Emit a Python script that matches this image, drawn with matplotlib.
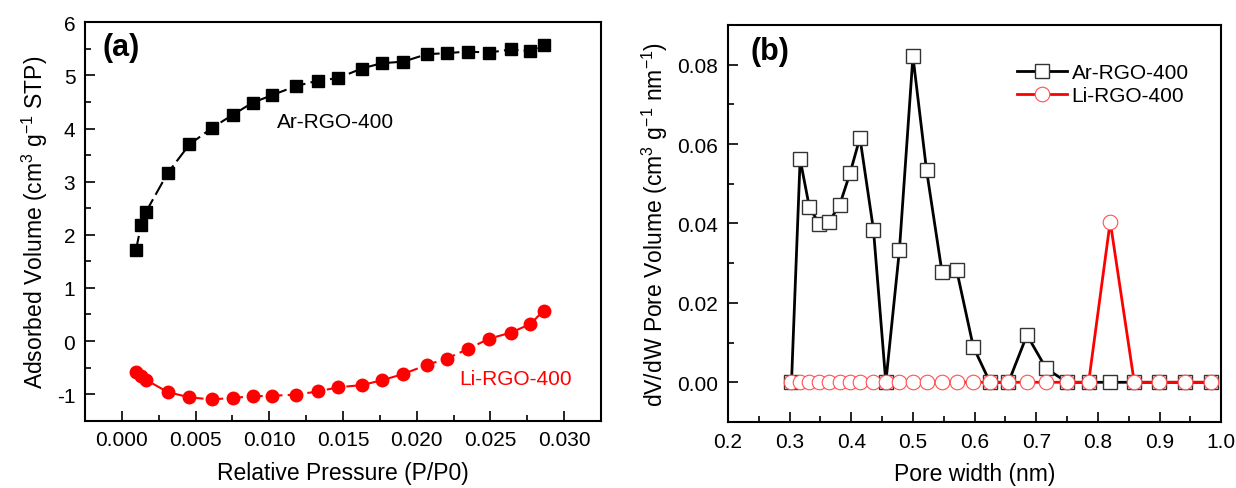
import numpy as np
import matplotlib.pyplot as plt
from matplotlib.ticker import MultipleLocator

plt.rcParams['font.family'] = ['Liberation Sans', 'DejaVu Sans']
plt.rcParams['mathtext.default'] = 'regular'

# (a) 等温吸附曲线数据
p_rel = [0.00095, 0.0013, 0.00163, 0.0031, 0.00458, 0.0061, 0.00752, 0.00889, 0.0102,
         0.0118, 0.01327, 0.01467, 0.01626, 0.01762, 0.01909, 0.02068, 0.02204,
         0.02347, 0.02487, 0.0264, 0.0277, 0.0286]
ar_ads = [1.71, 2.18, 2.43, 3.16, 3.70, 4.01, 4.26, 4.49, 4.63, 4.80, 4.90, 4.95,
          5.13, 5.23, 5.26, 5.40, 5.42, 5.45, 5.43, 5.49, 5.46, 5.57]
li_ads = [-0.59, -0.66, -0.73, -0.96, -1.06, -1.10, -1.07, -1.04, -1.03, -1.01, -0.95,
          -0.87, -0.83, -0.74, -0.62, -0.45, -0.33, -0.15, 0.04, 0.16, 0.32, 0.57]

# (b) 孔径分布数据
pore_w = [0.303, 0.317, 0.332, 0.348, 0.364, 0.381, 0.398, 0.414, 0.436, 0.456, 0.478,
          0.500, 0.522, 0.547, 0.571, 0.598, 0.625, 0.655, 0.685, 0.716, 0.750, 0.785,
          0.820, 0.859, 0.899, 0.941, 0.984]
ar_pv = [0.0, 0.0562, 0.0441, 0.0399, 0.0405, 0.0446, 0.0527, 0.0616, 0.0384, 0.0,
         0.0332, 0.0821, 0.0535, 0.0279, 0.0282, 0.0089, 0.0, 0.0, 0.0119, 0.0035,
         0.0, 0.0, 0.0, 0.0, 0.0, 0.0, 0.0]
li_pv = [0.0] * 22 + [0.0405] + [0.0] * 4

fig = plt.figure(figsize=(12.36, 4.89), dpi=100)
ax1 = fig.add_axes([0.0688, 0.1376, 0.4175, 0.8147])
ax2 = fig.add_axes([0.589, 0.135, 0.399, 0.8118])

fs_tick = 15
fs_lab = 16.5
fs_txt = 15

# 图(a)
ax1.plot(p_rel, ar_ads, color='black', marker='s', ms=8, lw=1.5,
         dashes=(7, 2.5))
ax1.plot(p_rel, li_ads, color='red', marker='o', ms=9, lw=1.5,
         dashes=(7, 2.5))
ax1.set_xlim(-0.0025, 0.0325)
ax1.set_ylim(-1.5, 6)
ax1.xaxis.set_major_locator(MultipleLocator(0.005))
ax1.xaxis.set_minor_locator(MultipleLocator(0.0025))
ax1.yaxis.set_major_locator(MultipleLocator(1))
ax1.yaxis.set_minor_locator(MultipleLocator(0.5))
ax1.xaxis.set_major_formatter(plt.FormatStrFormatter('%.3f'))
ax1.yaxis.set_major_formatter(plt.FormatStrFormatter('%d'))
ax1.set_xlabel('Relative Pressure (P/P0)', fontsize=fs_lab, labelpad=8)
ax1.set_ylabel('Adsorbed Volume (cm$^{3}$ g$^{-1}$ STP)', fontsize=fs_lab, labelpad=5)
ax1.text(0.0145, 4.13, 'Ar-RGO-400', fontsize=fs_txt, ha='center', va='center')
ax1.text(0.0229, -0.7, 'Li-RGO-400', fontsize=fs_txt, color='red', ha='left', va='center')
ax1.text(0.033, 0.937, '(a)', transform=ax1.transAxes, fontsize=22, fontweight='bold',
         ha='left', va='center')

# 图(b)
ax2.plot(pore_w, ar_pv, color='black', marker='s', ms=10, lw=2,
         mfc='white', mec='#333333', mew=1, label='Ar-RGO-400')
ax2.plot(pore_w, li_pv, color='red', marker='o', ms=10.5, lw=2,
         mfc='white', mec='#ff5050', mew=0.8, label='Li-RGO-400')
ax2.set_xlim(0.2, 1.0)
ax2.set_ylim(-0.01, 0.09)
ax2.xaxis.set_major_locator(MultipleLocator(0.1))
ax2.xaxis.set_minor_locator(MultipleLocator(0.05))
ax2.yaxis.set_major_locator(MultipleLocator(0.02))
ax2.yaxis.set_minor_locator(MultipleLocator(0.01))
ax2.xaxis.set_major_formatter(plt.FormatStrFormatter('%.1f'))
ax2.yaxis.set_major_formatter(plt.FormatStrFormatter('%.2f'))
ax2.set_xlabel('Pore width (nm)', fontsize=fs_lab, labelpad=8)
ax2.set_ylabel('dV/dW Pore Volume (cm$^{3}$ g$^{-1}$ nm$^{-1}$)', fontsize=fs_lab, labelpad=5)
ax2.text(0.045, 0.935, '(b)', transform=ax2.transAxes, fontsize=22, fontweight='bold',
         ha='left', va='center')
ax2.legend(loc='upper left', bbox_to_anchor=(0.57, 0.925), frameon=False,
           fontsize=fs_txt, handlelength=2.4, handletextpad=0.2, labelspacing=0.2,
           borderaxespad=0)

for ax in (ax1, ax2):
    for s in ax.spines.values():
        s.set_linewidth(1.5)
    ax.tick_params(which='both', direction='in', top=False, right=False,
                   labelsize=fs_tick, width=1.2)
    ax.tick_params(which='major', length=7, pad=7)
    ax.tick_params(which='minor', length=4)

fig.savefig('out.png', dpi=100)
